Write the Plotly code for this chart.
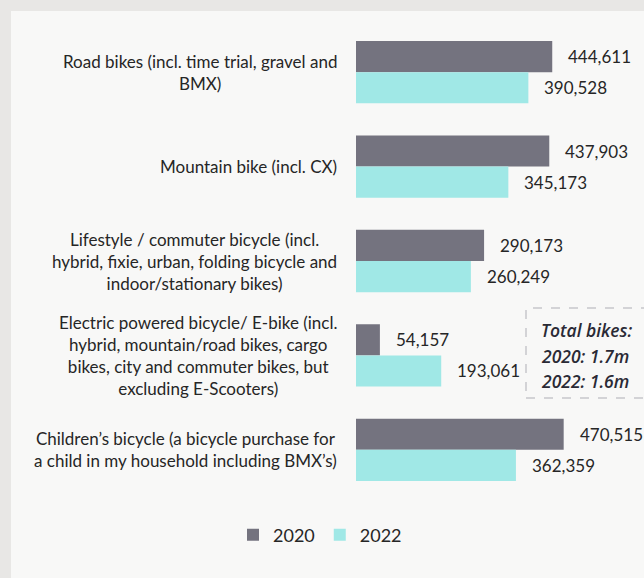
import plotly.graph_objects as go

categories = [
    "Road bikes (incl. time trial, gravel and<br>BMX)",
    "Mountain bike (incl. CX)",
    "Lifestyle / commuter bicycle (incl.<br>hybrid, fixie, urban, folding bicycle and<br>indoor/stationary bikes)",
    "Electric powered bicycle/ E-bike (incl.<br>hybrid, mountain/road bikes, cargo<br>bikes, city and commuter bikes, but<br>excluding E-Scooters)",
    "Children\u2019s bicycle (a bicycle purchase for<br>a child in my household including BMX\u2019s)",
]
cat_ids = ["road", "mtb", "life", "ebike", "kids"]
values_2020 = [444611, 437903, 290173, 54157, 470515]
values_2022 = [390528, 345173, 260249, 193061, 362359]
series_names = ["2020", "2022"]
total_lines = ["Total bikes:", "2020: 1.7m", "2022: 1.6m"]

W, H = 644, 578
L, R, T, B = 356, 32, 25, 81
XMAX = 580000
pw = W - L - R
ph = H - T - B

def px_x(px):
    return (px - L) / pw

def px_y(py):
    return (H - B - py) / ph

DARK = "#74737f"
CYAN = "#a0e8e6"
FONT = "Lato"
TXT = "#262626"

fig = go.Figure()
fig.add_trace(go.Bar(y=cat_ids, x=values_2020, name=series_names[0], orientation="h",
                     marker=dict(color=DARK, line=dict(width=0))))
fig.add_trace(go.Bar(y=cat_ids, x=values_2022, name=series_names[1], orientation="h",
                     marker=dict(color=CYAN, line=dict(width=0))))

annotations = []
for cid, label in zip(cat_ids, categories):
    annotations.append(dict(x=0, xref="paper", y=cid, yref="y", text=label,
                            xanchor="right", xshift=-17, align="center", showarrow=False,
                            font=dict(family=FONT, size=17, color=TXT)))
for vals, ys in ((values_2020, 15.5), (values_2022, -15.5)):
    for cid, v in zip(cat_ids, vals):
        annotations.append(dict(x=v, xref="x", y=cid, yref="y", text=f"{v:,}",
                                xanchor="left", xshift=14, yshift=ys, showarrow=False,
                                font=dict(family=FONT, size=17, color=TXT)))
for i, t in enumerate(total_lines):
    annotations.append(dict(x=px_x(539), xref="paper", y=px_y(330 + i * 25.5), yref="paper",
                            text=t, xanchor="left", yanchor="middle",
                            showarrow=False,
                            font=dict(family="Open Sans", size=17.5, color="#2a2a35",
                                      style="italic", weight=600)))

shapes = [
    dict(type="rect", xref="paper", yref="paper", x0=px_x(11), x1=px_x(660),
         y0=px_y(600), y1=px_y(11), fillcolor="#f8f8f7", line=dict(width=0), layer="below"),
    dict(type="rect", xref="paper", yref="paper", x0=px_x(526), x1=px_x(660),
         y0=px_y(398), y1=px_y(308), fillcolor="rgba(0,0,0,0)",
         line=dict(color="#c6c6cb", width=1.5, dash="dash"), layer="above"),
]

fig.update_layout(
    width=W, height=H,
    autosize=False,
    margin=dict(l=L, r=R, t=T, b=B, autoexpand=False),
    paper_bgcolor="#e8e7e5",
    plot_bgcolor="rgba(0,0,0,0)",
    barmode="group", bargap=0.34, bargroupgap=0,
    xaxis=dict(type="linear", range=[0, XMAX], showticklabels=False, showgrid=False,
               zeroline=False, showline=False, ticks="", fixedrange=True),
    yaxis=dict(type="category", categoryorder="array", categoryarray=cat_ids,
               range=[len(cat_ids) - 0.5, -0.5], autorange=False,
               showticklabels=False, showgrid=False,
               zeroline=False, showline=False, ticks="", fixedrange=True),
    legend=dict(orientation="h", x=px_x(320), xanchor="center",
                y=px_y(535), yanchor="middle",
                font=dict(family=FONT, size=18, color=TXT), bgcolor="rgba(0,0,0,0)",
                traceorder="normal", itemwidth=30),
    annotations=annotations,
    shapes=shapes,
    showlegend=True,
)

fig.write_html("out.html", config={"displayModeBar": False},
               post_script="document.body.style.margin='0px';document.body.style.overflow='hidden';")
